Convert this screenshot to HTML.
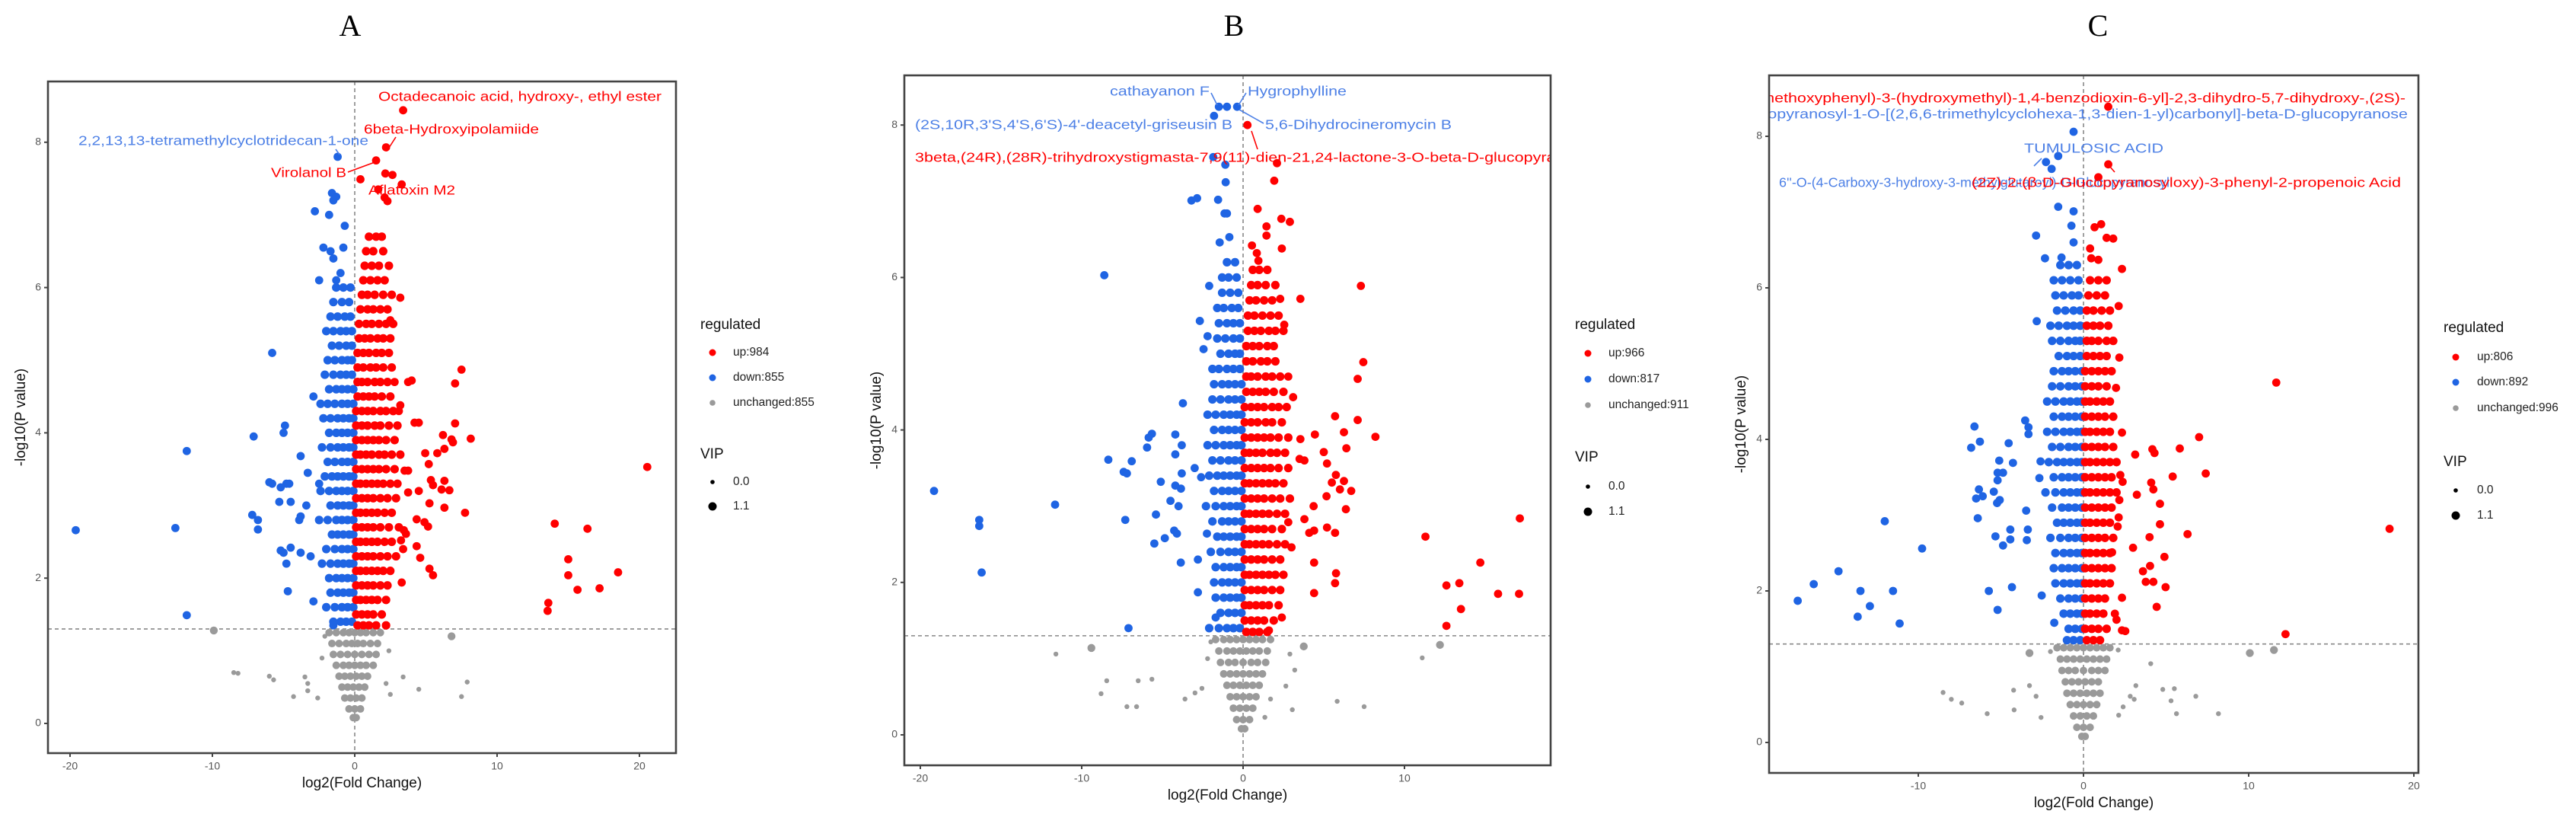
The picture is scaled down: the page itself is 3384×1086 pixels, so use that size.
<!DOCTYPE html>
<html><head><meta charset="utf-8">
<style>
html,body{margin:0;padding:0;background:#fff;}
svg{display:block;font-family:"Liberation Sans",sans-serif;}
</style></head>
<body>
<svg id="fig" width="3384" height="1086" viewBox="0 0 3384 1086" xmlns="http://www.w3.org/2000/svg">
<defs>
<clipPath id="clipA"><rect x="63" y="107" width="825" height="882"/></clipPath>
<clipPath id="clipB"><rect x="1188" y="99" width="849" height="906"/></clipPath>
<clipPath id="clipC"><rect x="2324" y="99" width="853" height="916"/></clipPath>
</defs>
</svg>
<script>
// ---------- Panel A data ----------
const xTicksA = [-20,-10,0,10,20];
const yTicks = [0,2,4,6,8];
const upA = [3.4,8.44, 2.2,7.93, 1.5,7.75, 0.4,7.49, 2.15,7.57, 2.65,7.55, 3.3,7.42, 1.65,7.35, 2.1,7.24, 2.3,7.19,
 3.2,5.86, 2.5,5.55, 2.8,4.7, 3.75,4.7, 4.0,4.72, 7.5,4.87, 7.05,4.68, 3.2,4.38, 3.1,4.3, 4.2,4.14, 4.5,4.14, 7.05,4.13,
 6.2,3.97, 6.8,3.91, 8.15,3.92, 6.9,3.87, 6.3,3.78, 4.95,3.72, 5.8,3.72, 5.2,3.57, 3.75,3.48, 3.5,3.48, 5.35,3.35, 6.3,3.34,
 5.5,3.28, 6.1,3.22, 6.65,3.21, 3.75,3.18, 4.5,3.2, 5.25,3.03, 6.3,2.97, 7.75,2.9, 4.35,2.81, 4.9,2.77, 5.15,2.71, 3.45,2.66,
 3.6,2.61, 3.25,2.52, 4.35,2.44, 3.4,2.4, 4.6,2.28, 5.25,2.13, 5.5,2.04, 3.3,1.94, 20.55,3.53, 14.05,2.75, 16.35,2.68,
 15.0,2.26, 15.0,2.04, 18.5,2.08, 15.65,1.84, 17.2,1.86, 13.6,1.66, 13.55,1.55];
const upCoreA = [
 [6.7,1.0,1.5,1.9],[6.5,0.8,1.3,2.0],[6.3,0.7,1.2,1.7,2.4],[6.1,0.6,1.1,1.6,2.1],[5.9,0.5,0.9,1.4,2.0,2.6],
 [5.7,0.4,0.9,1.3,1.8,2.3],[5.5,0.3,0.8,1.2,1.7,2.2,2.7],[5.3,0.3,0.7,1.1,1.6,2.0,2.5],[5.1,0.2,0.6,1.0,1.5,1.9,2.4],
 [4.9,0.2,0.6,1.1,1.5,2.0,2.6],[4.7,0.2,0.5,0.9,1.4,1.8,2.3],[4.5,0.2,0.6,1.0,1.4,1.9,2.5],[4.3,0.1,0.5,0.9,1.3,1.8,2.2,2.7],
 [4.1,0.1,0.5,0.9,1.4,1.8,2.4,3.0],[3.9,0.1,0.5,0.9,1.3,1.7,2.2,2.8],[3.7,0.1,0.4,0.8,1.2,1.7,2.1,2.6,3.2],
 [3.5,0.1,0.5,0.9,1.3,1.7,2.2,2.8],[3.3,0.1,0.4,0.8,1.2,1.6,2.0,2.5,3.0],[3.1,0.1,0.5,0.9,1.3,1.8,2.3,2.9],
 [2.9,0.1,0.4,0.8,1.2,1.6,2.1,2.6],[2.7,0.1,0.5,0.9,1.3,1.8,2.4,3.1],[2.5,0.1,0.4,0.8,1.2,1.6,2.1,2.6],
 [2.3,0.1,0.5,0.9,1.3,1.8,2.3,2.9],[2.1,0.1,0.4,0.8,1.2,1.6,2.0,2.5],[1.9,0.1,0.5,0.9,1.3,1.8,2.3],
 [1.7,0.1,0.4,0.8,1.2,1.6,2.2],[1.5,0.1,0.5,0.9,1.3,1.9],[1.35,0.2,0.6,1.0,1.5,2.2]];
const downA = [-1.2,7.8, -1.6,7.3, -1.3,7.25, -1.5,7.2, -2.8,7.05, -1.8,7.0, -0.7,6.85, -2.2,6.55, -0.8,6.55, -1.7,6.5,
 -1.5,6.4, -2.5,6.1, -1.0,6.2, -1.3,6.1, -5.8,5.1, -2.9,4.5, -4.9,4.1, -5.0,4.0, -7.1,3.95, -11.8,3.75, -3.8,3.68,
 -5.8,3.3, -6.0,3.32, -4.6,3.3, -4.8,3.3, -5.2,3.25, -3.3,3.45, -2.5,3.3, -5.3,3.05, -4.5,3.05, -3.4,3.0, -7.2,2.87,
 -6.8,2.8, -6.8,2.67, -3.8,2.85, -3.9,2.8, -19.6,2.66, -12.6,2.69, -5.2,2.38, -4.5,2.42, -3.8,2.35, -5.0,2.35, -4.8,2.2,
 -3.1,2.3, -4.7,1.82, -2.9,1.68, -11.8,1.49, -1.5,1.35];
const downCoreA = [
 [6.0,-0.3,-0.8,-1.3],[5.8,-0.4,-0.9,-1.5],[5.6,-0.3,-0.7,-1.2,-1.7],[5.4,-0.2,-0.6,-1.0,-1.5,-2.0],[5.2,-0.2,-0.6,-1.1,-1.6],
 [5.0,-0.2,-0.5,-0.9,-1.4,-1.9],[4.8,-0.2,-0.6,-1.0,-1.5,-2.1],[4.6,-0.1,-0.5,-0.9,-1.3,-1.8],[4.4,-0.1,-0.5,-0.9,-1.4,-1.9,-2.4],
 [4.2,-0.1,-0.4,-0.8,-1.2,-1.7,-2.2],[4.0,-0.1,-0.5,-0.9,-1.3,-1.8],[3.8,-0.1,-0.4,-0.8,-1.2,-1.7,-2.3],[3.6,-0.1,-0.5,-0.9,-1.4,-1.9],
 [3.4,-0.1,-0.4,-0.8,-1.2,-1.6,-2.1],[3.2,-0.1,-0.5,-0.9,-1.3,-1.8,-2.4],[3.0,-0.1,-0.4,-0.8,-1.2,-1.7],[2.8,-0.1,-0.5,-0.9,-1.3,-1.9,-2.5],
 [2.6,-0.1,-0.4,-0.8,-1.2,-1.6],[2.4,-0.1,-0.5,-0.9,-1.4,-2.0],[2.2,-0.1,-0.4,-0.8,-1.2,-1.7,-2.3],[2.0,-0.1,-0.5,-0.9,-1.3,-1.8],
 [1.8,-0.1,-0.4,-0.8,-1.2,-1.7],[1.6,-0.1,-0.5,-0.9,-1.4,-2.0],[1.4,-0.2,-0.6,-1.0,-1.5]];
const unchBigA = [-9.9,1.28, 6.8,1.2];
const unchA = [-8.5,0.7, -8.2,0.69, -6.0,0.65, -5.7,0.6, -3.5,0.64, -3.3,0.55, -4.3,0.37, -3.3,0.45, 3.4,0.64, 4.5,0.47,
 7.9,0.57, 7.5,0.37, 2.2,0.55, 2.5,0.4, -2.6,0.35, -2.3,0.9, 2.4,1.0, -2.1,1.2];
const unchCoreA = [[1.25,-1.8,-1.3,-0.8,-0.4,0,0.4,0.8,1.3,1.8],[1.1,-1.6,-1.1,-0.6,-0.2,0.2,0.6,1.1,1.6],[0.95,-1.5,-1.0,-0.5,0,0.5,1.0,1.5],
 [0.8,-1.3,-0.8,-0.4,0,0.4,0.8,1.3],[0.65,-1.1,-0.7,-0.3,0.1,0.5,0.9],[0.5,-0.9,-0.5,-0.1,0.3,0.7],[0.35,-0.7,-0.3,0.1,0.5],[0.2,-0.4,0,0.4],[0.08,-0.1,0.1]];

// ---------- Panel B data ----------
const xTicksB = [-20,-10,0,10];
const upB = [0.27,8.0, 2.1,7.5, 1.93,7.27, 0.9,6.9, 2.9,6.73, 1.45,6.67, 2.37,6.77, 1.45,6.55, 2.4,6.38, 0.55,6.42, 0.85,6.32,
 0.95,6.22, 7.3,5.89, 3.55,5.72, 2.3,5.72, 2.55,5.38, 7.45,4.89, 7.1,4.67, 2.8,4.7, 3.1,4.43, 5.7,4.18, 7.1,4.13, 6.25,3.97,
 8.2,3.91, 4.45,3.94, 3.55,3.88, 6.4,3.76, 5.0,3.71, 3.5,3.62, 3.8,3.6, 5.2,3.56, 5.75,3.41, 5.5,3.31, 6.25,3.33, 6.0,3.22,
 6.7,3.2, 5.17,3.13, 4.37,3.0, 6.37,2.96, 3.8,2.83, 2.8,2.79, 4.4,2.68, 4.1,2.65, 5.2,2.72, 5.7,2.65, 3.0,2.46, 4.4,2.26,
 5.76,2.12, 5.7,1.99, 4.4,1.86, 11.3,2.6, 17.15,2.84, 14.7,2.26, 12.6,1.96, 13.4,1.99, 15.8,1.85, 17.1,1.85, 13.5,1.65,
 12.6,1.43, 1.6,1.37, 2.4,1.54];
const upCoreB = [
 [6.1,0.6,1.0,1.5],[5.9,0.5,0.9,1.4,2.0],[5.7,0.4,0.8,1.3,1.8],[5.5,0.3,0.7,1.2,1.7,2.2],[5.3,0.3,0.7,1.1,1.6,2.0,2.5],
 [5.1,0.2,0.6,1.0,1.5,1.9],[4.9,0.2,0.6,1.1,1.5,2.0],[4.7,0.2,0.5,0.9,1.4,1.8,2.3],[4.5,0.2,0.6,1.0,1.4,1.9,2.5],
 [4.3,0.1,0.5,0.9,1.3,1.8,2.2,2.7],[4.1,0.1,0.5,0.9,1.4,1.8,2.4],[3.9,0.1,0.5,0.9,1.3,1.7,2.2,2.8],[3.7,0.1,0.4,0.8,1.2,1.7,2.1,2.6],
 [3.5,0.1,0.5,0.9,1.3,1.7,2.2,2.8],[3.3,0.1,0.4,0.8,1.2,1.6,2.0,2.5],[3.1,0.1,0.5,0.9,1.3,1.8,2.3,2.9],[2.9,0.1,0.4,0.8,1.2,1.6,2.1,2.6],
 [2.7,0.1,0.5,0.9,1.3,1.8,2.4],[2.5,0.1,0.4,0.8,1.2,1.6,2.1,2.6],[2.3,0.1,0.5,0.9,1.3,1.8,2.3],[2.1,0.1,0.4,0.8,1.2,1.6,2.0,2.5],
 [1.9,0.1,0.5,0.9,1.3,1.8,2.3],[1.7,0.1,0.4,0.8,1.2,1.6,2.2],[1.5,0.1,0.5,0.9,1.3,1.9],[1.35,0.2,0.6,1.0,1.5]];
const downB = [-1.5,8.24, -1.0,8.24, -0.37,8.24, -1.8,8.12, -1.85,7.58, -1.1,7.48, -1.08,7.25, -3.2,7.01, -2.85,7.04, -1.55,7.02,
 -1.15,6.84, -1.0,6.84, -1.45,6.46, -0.85,6.53, -8.6,6.03, -2.1,5.89, -2.68,5.43, -2.2,5.23, -2.45,5.06, -3.73,4.35, -5.65,3.95,
 -5.85,3.9, -4.2,3.94, -3.8,3.8, -5.95,3.77, -4.2,3.68, -8.35,3.61, -6.9,3.59, -7.4,3.45, -7.2,3.43, -3.0,3.5, -3.8,3.43, -2.6,3.38,
 -5.1,3.32, -4.2,3.27, -3.85,3.23, -19.15,3.2, -11.65,3.02, -4.5,3.07, -4.0,3.0, -5.4,2.89, -7.3,2.82, -16.35,2.82, -16.35,2.74,
 -4.27,2.68, -4.1,2.64, -4.85,2.58, -5.5,2.51, -2.24,2.64, -2.8,2.3, -3.86,2.26, -16.2,2.13, -2.8,1.87, -7.1,1.4, -1.7,1.54];
const downCoreB = [
 [6.2,-0.5,-1.0],[6.0,-0.4,-0.9,-1.3],[5.8,-0.3,-0.8,-1.3],[5.6,-0.3,-0.7,-1.2,-1.6],[5.4,-0.2,-0.6,-1.0,-1.5],
 [5.2,-0.2,-0.6,-1.1,-1.6],[5.0,-0.2,-0.5,-0.9,-1.4],[4.8,-0.2,-0.6,-1.0,-1.5,-1.9],[4.6,-0.1,-0.5,-0.9,-1.3,-1.8],
 [4.4,-0.1,-0.5,-0.9,-1.4,-1.9],[4.2,-0.1,-0.4,-0.8,-1.2,-1.7,-2.2],[4.0,-0.1,-0.5,-0.9,-1.3,-1.8],[3.8,-0.1,-0.4,-0.8,-1.2,-1.7,-2.2],
 [3.6,-0.1,-0.5,-0.9,-1.4,-1.9],[3.4,-0.1,-0.4,-0.8,-1.2,-1.6,-2.1],[3.2,-0.1,-0.5,-0.9,-1.3,-1.8],[3.0,-0.1,-0.4,-0.8,-1.2,-1.7,-2.3],
 [2.8,-0.1,-0.5,-0.9,-1.3,-1.9],[2.6,-0.1,-0.4,-0.8,-1.2,-1.6],[2.4,-0.1,-0.5,-0.9,-1.4,-2.0],[2.2,-0.1,-0.4,-0.8,-1.2,-1.7],
 [2.0,-0.1,-0.5,-0.9,-1.3,-1.8],[1.8,-0.1,-0.4,-0.8,-1.2,-1.7],[1.6,-0.1,-0.5,-0.9,-1.4],[1.4,-0.2,-0.6,-1.0,-1.5,-2.1]];
const unchBigB = [-9.4,1.14, 3.76,1.16, 12.2,1.18];
const unchB = [-11.6,1.06, -8.45,0.71, -6.5,0.71, -5.65,0.73, -8.8,0.54, -7.2,0.37, -6.6,0.37, -3.6,0.47, -2.98,0.55, -2.55,0.61,
 11.1,1.01, 2.9,1.06, 3.2,0.85, 2.65,0.64, 5.83,0.44, 7.5,0.37, 3.05,0.33, 1.7,0.47, 1.35,0.23, -2.2,1.0, -2.0,1.22];
const unchCoreB = [[1.25,-1.7,-1.2,-0.8,-0.4,0,0.4,0.8,1.2,1.7],[1.1,-1.5,-1.0,-0.6,-0.2,0.2,0.6,1.0,1.5],[0.95,-1.4,-0.9,-0.5,0,0.5,0.9,1.4],
 [0.8,-1.2,-0.8,-0.4,0,0.4,0.8,1.2],[0.65,-1.0,-0.6,-0.2,0.2,0.6,1.0],[0.5,-0.8,-0.4,0,0.4,0.8],[0.35,-0.6,-0.2,0.2,0.6],[0.2,-0.4,0,0.4],[0.08,-0.1,0.1]];

// ---------- Panel C data ----------
const xTicksC = [-10,0,10,20];
const upC = [1.5,8.39, 1.5,7.63, 0.9,7.46, 0.67,6.8, 1.07,6.84, 1.4,6.66, 1.8,6.65, 0.4,6.52, 2.33,6.25, 0.47,6.39, 0.9,6.37,
 2.13,5.76, 2.17,5.08, 1.97,4.68, 11.67,4.75, 2.33,4.09, 7.0,4.03, 5.83,3.88, 4.17,3.87, 4.3,3.82, 3.13,3.8, 7.4,3.55,
 5.4,3.51, 2.23,3.53, 2.37,3.44, 4.1,3.43, 4.23,3.34, 3.23,3.27, 2.17,3.2, 4.63,3.15, 2.13,2.97, 2.07,2.85, 4.63,2.88,
 18.53,2.82, 6.3,2.75, 4.0,2.71, 3.0,2.57, 1.73,2.51, 4.9,2.45, 4.03,2.33, 3.6,2.26, 3.77,2.12, 4.23,2.12, 4.97,2.05,
 2.33,1.91, 4.43,1.79, 1.9,1.7, 2.0,1.62, 2.33,1.48, 2.53,1.47, 12.23,1.43];
const upCoreC = [
 [6.1,0.4,0.9,1.4],[5.9,0.3,0.8,1.3],[5.7,0.2,0.6,1.1,1.6],[5.5,0.2,0.6,1.0,1.5],[5.3,0.2,0.5,0.9,1.4,1.8],
 [5.1,0.2,0.6,1.0,1.4],[4.9,0.1,0.5,0.9,1.3,1.7],[4.7,0.1,0.5,0.9,1.4],[4.5,0.1,0.4,0.8,1.2,1.6],[4.3,0.1,0.5,0.9,1.3,1.8],
 [4.1,0.1,0.4,0.8,1.2,1.6],[3.9,0.1,0.5,0.9,1.3,1.8],[3.7,0.1,0.4,0.8,1.2,1.6,2.0],[3.5,0.1,0.5,0.9,1.3,1.7],
 [3.3,0.1,0.4,0.8,1.2,1.6,2.0],[3.1,0.1,0.5,0.9,1.3,1.7],[2.9,0.1,0.4,0.8,1.2,1.6],[2.7,0.1,0.5,0.9,1.3,1.8],
 [2.5,0.1,0.4,0.8,1.2,1.6],[2.3,0.1,0.5,0.9,1.3,1.7],[2.1,0.1,0.4,0.8,1.2,1.6],[1.9,0.1,0.5,0.9,1.3],
 [1.7,0.1,0.4,0.8,1.2],[1.5,0.1,0.5,0.9,1.4],[1.35,0.2,0.6,1.0]];
const downC = [-0.6,8.06, -2.27,7.66, -1.93,7.57, -1.53,7.74, -1.53,7.07, -0.6,7.01, -0.73,6.82, -2.87,6.69, -0.6,6.6, -2.33,6.39,
 -1.33,6.4, -2.83,5.56, -6.6,4.17, -6.27,3.97, -6.8,3.89, -3.53,4.25, -3.33,4.16, -3.33,4.07, -4.53,3.95, -5.1,3.72, -4.27,3.69,
 -5.2,3.56, -4.87,3.56, -5.2,3.46, -2.6,3.71, -2.67,3.49, -6.33,3.34, -6.1,3.25, -6.5,3.22, -5.43,3.31, -5.23,3.16, -5.07,3.2,
 -3.47,3.06, -6.4,2.96, -12.03,2.92, -4.43,2.81, -3.37,2.81, -5.33,2.72, -4.43,2.68, -3.43,2.67, -4.87,2.6, -9.77,2.56,
 -14.83,2.26, -16.33,2.09, -13.5,2.0, -11.53,2.0, -5.73,2.0, -4.33,2.05, -17.3,1.87, -12.93,1.8, -13.67,1.66, -5.2,1.75,
 -11.13,1.57, -2.53,1.94, -1.77,1.58];
const downCoreC = [
 [6.3,-0.4,-0.9,-1.4],[6.1,-0.3,-0.8,-1.3,-1.8],[5.9,-0.3,-0.7,-1.2,-1.7],[5.7,-0.2,-0.6,-1.1,-1.6],[5.5,-0.2,-0.6,-1.0,-1.5,-2.0],
 [5.3,-0.2,-0.5,-0.9,-1.4,-1.9],[5.1,-0.2,-0.6,-1.0,-1.5],[4.9,-0.1,-0.5,-0.9,-1.3,-1.8],[4.7,-0.1,-0.5,-0.9,-1.4,-1.9],
 [4.5,-0.1,-0.4,-0.8,-1.2,-1.7,-2.2],[4.3,-0.1,-0.5,-0.9,-1.3,-1.8],[4.1,-0.1,-0.4,-0.8,-1.2,-1.7,-2.2],[3.9,-0.1,-0.5,-0.9,-1.4,-1.9],
 [3.7,-0.1,-0.4,-0.8,-1.2,-1.6,-2.1],[3.5,-0.1,-0.5,-0.9,-1.3,-1.8],[3.3,-0.1,-0.4,-0.8,-1.2,-1.7,-2.3],[3.1,-0.1,-0.5,-0.9,-1.3,-1.9],
 [2.9,-0.1,-0.4,-0.8,-1.2,-1.6],[2.7,-0.1,-0.5,-0.9,-1.4,-2.0],[2.5,-0.1,-0.4,-0.8,-1.2,-1.7],[2.3,-0.1,-0.5,-0.9,-1.3,-1.8],
 [2.1,-0.1,-0.4,-0.8,-1.2,-1.7],[1.9,-0.1,-0.5,-0.9,-1.4],[1.7,-0.1,-0.4,-0.8,-1.2],[1.5,-0.1,-0.5,-0.9],[1.35,-0.2,-0.6,-1.0]];
const unchBigC = [-3.27,1.18, 10.07,1.18, 11.53,1.22];
const unchC = [4.07,1.04, -8.5,0.66, -8.0,0.57, -7.37,0.52, -5.83,0.38, -4.23,0.69, -4.2,0.43, -3.27,0.75, -2.87,0.61, -2.57,0.33,
 3.17,0.75, 3.07,0.57, 4.8,0.7, 5.5,0.71, 5.3,0.55, 6.8,0.61, 5.63,0.38, 8.17,0.38, 2.13,0.36, 2.83,0.61, 2.4,0.47, 2.1,1.22, -2.0,1.2];
const unchCoreC = [[1.25,-1.6,-1.2,-0.8,-0.4,0,0.4,0.8,1.2,1.6],[1.1,-1.4,-1.0,-0.6,-0.2,0.2,0.6,1.0,1.4],[0.95,-1.3,-0.9,-0.5,0,0.5,0.9,1.3],
 [0.8,-1.1,-0.7,-0.3,0.1,0.5,0.9],[0.65,-1.0,-0.6,-0.2,0.2,0.6,1.0],[0.5,-0.8,-0.4,0,0.4,0.8],[0.35,-0.6,-0.2,0.2,0.6],[0.2,-0.4,0,0.4],[0.08,-0.1,0.1]];

const legendA = ["up:984","down:855","unchanged:855"];
const legendB = ["up:966","down:817","unchanged:911"];
const legendC = ["up:806","down:892","unchanged:996"];

const NS = "http://www.w3.org/2000/svg";
const svg = document.getElementById('fig');
const RED = "#ff0000", BLUE = "#1f64e3", GRAY = "#9a9a9a", LBLUE = "#4d80e6";
function mk(tag, attrs, parent, text){
  const e = document.createElementNS(NS, tag);
  for (const k in attrs) e.setAttribute(k, attrs[k]);
  if (text !== undefined) e.textContent = text;
  (parent || svg).appendChild(e);
  return e;
}

function panel(P){
  const g = mk('g', {});
  
  
  const X = v => P.x0 + P.xpu * v;
  const Y = v => P.y0 - P.ypu * v;
  // title
  const t = mk('text', {x:P.titleX, y:P.titleY, 'text-anchor':'middle', 'dominant-baseline':'middle', 'font-family':'"Liberation Serif",serif', 'font-size':40, fill:'#000'}, g, P.id);
  
  
  // frame bg
  const bg = mk('rect', {x:P.left, y:P.top, width:P.right-P.left, height:P.bottom-P.top, fill:'#fff'}, g);
  
  
  const pts = mk('g', {'clip-path':'url(#clip' + P.id + ')'}, g);
  
  
  // threshold lines
  const hl = mk('line', {x1:P.left, x2:P.right, y1:Y(1.3), y2:Y(1.3), stroke:'#888', 'stroke-width':1.6, 'stroke-dasharray':'5,4'}, pts);
  
  
  const vl = mk('line', {x1:X(0), x2:X(0), y1:P.top, y2:P.bottom, stroke:'#888', 'stroke-width':1.6, 'stroke-dasharray':'5,4'}, pts);
  
  
  function dotsFlat(arr, col, r, name){
    for (let i = 0; i < arr.length; i += 2){
      const c = mk('circle', {cx:X(arr[i]), cy:Y(arr[i+1]), r:r, fill:col}, pts);
      
      
    }
  }
  function dotsRows(rows, col, r, name){
    rows.forEach(row => {
      for (let j = 1; j < row.length; j++){
        const c = mk('circle', {cx:X(row[j]), cy:Y(row[0]), r:r, fill:col}, pts);
        
        
      }
    });
  }
  dotsRows(P.unchCore, GRAY, 5, 'unchanged-point');
  dotsFlat(P.unch, GRAY, 3.2, 'unchanged-point');
  dotsFlat(P.unchBig, GRAY, 5.2, 'unchanged-point');
  dotsRows(P.downCore, BLUE, 5.6, 'down-point');
  dotsFlat(P.down, BLUE, 5.4, 'down-point');
  dotsRows(P.upCore, RED, 5.6, 'up-point');
  dotsFlat(P.up, RED, 5.4, 'up-point');
  // labels
  P.labels.forEach(L => {
    if (L.line){
      const ln = mk('line', {x1:L.line[0], y1:L.line[1], x2:L.line[2], y2:L.line[3], stroke:L.c, 'stroke-width':1.6}, pts);
      
      
    }
    const a = {x:L.x, y:L.y, 'font-size':17.5, fill:L.c, 'dominant-baseline':'middle', textLength:L.w, lengthAdjust:'spacingAndGlyphs'};
    if (L.end) a['text-anchor'] = 'end';
    const tx = mk('text', a, pts, L.t);
    
    
  });
  // frame
  const fr = mk('rect', {x:P.left, y:P.top, width:P.right-P.left, height:P.bottom-P.top, fill:'none', stroke:'#444', 'stroke-width':2.6}, g);
  
  
  // ticks
  P.xTicks.forEach(v => {
    const tk = mk('line', {x1:X(v), x2:X(v), y1:P.bottom, y2:P.bottom+5, stroke:'#444', 'stroke-width':2}, g);
    
    
    const tl = mk('text', {x:X(v), y:P.bottom+18, 'text-anchor':'middle', 'dominant-baseline':'middle', 'font-size':14, fill:'#555'}, g, String(v));
    
    
  });
  yTicks.forEach(v => {
    const tk = mk('line', {x1:P.left-5, x2:P.left, y1:Y(v), y2:Y(v), stroke:'#444', 'stroke-width':2}, g);
    
    
    const tl = mk('text', {x:P.left-9, y:Y(v), 'text-anchor':'end', 'dominant-baseline':'middle', 'font-size':14, fill:'#555'}, g, String(v));
    
    
  });
  const xt = mk('text', {x:(P.left+P.right)/2, y:P.bottom+40, 'text-anchor':'middle', 'dominant-baseline':'middle', 'font-size':19, fill:'#111'}, g, 'log2(Fold Change)');
  
  
  const yc = (P.top+P.bottom)/2;
  const yt = mk('text', {x:P.ylabX, y:yc, 'text-anchor':'middle', 'dominant-baseline':'middle', 'font-size':19, fill:'#111', transform:'rotate(-90 ' + P.ylabX + ' ' + yc + ')'}, g, '-log10(P value)');
  
  
  // legend
  const lg = mk('g', {}, g);
  
  
  const L = P.leg;
  const rt = mk('text', {x:L.tx, y:L.ty, 'dominant-baseline':'middle', 'font-size':19, fill:'#111'}, lg, 'regulated');
  
  
  const cols = [RED, BLUE, GRAY], rs = [4.5, 4.5, 3.8];
  P.legendText.forEach((s, i) => {
    const d = mk('circle', {cx:L.dx, cy:L.iy[i], r:rs[i], fill:cols[i]}, lg);
    
    
    const tt = mk('text', {x:L.lx, y:L.iy[i], 'dominant-baseline':'middle', 'font-size':15.5, fill:'#222'}, lg, s);
    
    
  });
  const vt = mk('text', {x:L.tx, y:L.vy, 'dominant-baseline':'middle', 'font-size':19, fill:'#111'}, lg, 'VIP');
  
  
  [['0.0', 2.8], ['1.1', 5.5]].forEach((p, i) => {
    const d = mk('circle', {cx:L.dx, cy:L.sy[i], r:p[1], fill:'#000'}, lg);
    
    
    const tt = mk('text', {x:L.lx, y:L.sy[i], 'dominant-baseline':'middle', 'font-size':15.5, fill:'#222'}, lg, p[0]);
    
    
  });
}

panel({id:'A', left:63, right:888, top:107, bottom:989, x0:466, xpu:18.7, y0:950, ypu:95.4,
  titleX:460, titleY:38, ylabX:28, xTicks:xTicksA,
  up:upA, upCore:upCoreA, down:downA, downCore:downCoreA, unch:unchA, unchBig:unchBigA, unchCore:unchCoreA,
  legendText:legendA,
  leg:{tx:920, ty:427, dx:936, lx:963, iy:[463,496,529], vy:597, sy:[633,665]},
  labels:[
   {t:'Octadecanoic acid, hydroxy-, ethyl ester', x:497, y:128, w:372, c:RED, line:[530,142,528,147]},
   {t:'6beta-Hydroxyipolamiide', x:478, y:171, w:230, c:RED, line:[520,180,511,194]},
   {t:'2,2,13,13-tetramethylcyclotridecan-1-one', x:103, y:186, w:381, c:LBLUE, line:[441,196,446,203]},
   {t:'Virolanol B', x:356, y:228, w:99, c:RED, line:[457,226,495,212]},
   {t:'Aflatoxin M2', x:484, y:251, w:114, c:RED}
  ]});

panel({id:'B', left:1188, right:2037, top:99, bottom:1005, x0:1633, xpu:21.2, y0:965, ypu:100.1,
  titleX:1621, titleY:38, ylabX:1152, xTicks:xTicksB,
  up:upB, upCore:upCoreB, down:downB, downCore:downCoreB, unch:unchB, unchBig:unchBigB, unchCore:unchCoreB,
  legendText:legendB,
  leg:{tx:2069, ty:427, dx:2086, lx:2113, iy:[464,498,532], vy:601, sy:[639,672]},
  labels:[
   {t:'cathayanon F', x:1458, y:121, w:131, c:LBLUE, line:[1591,122,1599,138]},
   {t:'Hygrophylline', x:1639, y:121, w:130, c:LBLUE, line:[1637,122,1627,138]},
   {t:"(2S,10R,3'S,4'S,6'S)-4'-deacetyl-griseusin B", x:1202, y:165, w:417, c:LBLUE},
   {t:'5,6-Dihydrocineromycin B', x:1662, y:165, w:245, c:LBLUE, line:[1660,162,1628,144]},
   {t:'3beta,(24R),(28R)-trihydroxystigmasta-7,9(11)-dien-21,24-lactone-3-O-beta-D-glucopyranoside', x:1202, y:208, w:905, c:RED, line:[1644,172,1652,196]}
  ]});

panel({id:'C', left:2324, right:3177, top:99, bottom:1015, x0:2737, xpu:21.7, y0:975, ypu:99.5,
  titleX:2756, titleY:38, ylabX:2288, xTicks:xTicksC,
  up:upC, upCore:upCoreC, down:downC, downCore:downCoreC, unch:unchC, unchBig:unchBigC, unchCore:unchCoreC,
  legendText:legendC,
  leg:{tx:3210, ty:431, dx:3226, lx:3254, iy:[469,502,536], vy:607, sy:[644,677]},
  labels:[
   {t:'4H-1-Benzopyran-4-one, 2-[2-(4-hydroxy-3-methoxyphenyl)-3-(hydroxymethyl)-1,4-benzodioxin-6-yl]-2,3-dihydro-5,7-dihydroxy-,(2S)-', x:3160, y:130, w:1260, c:RED, end:true},
   {t:'6-O-beta-D-Glucopyranosyl-1-O-[(2,6,6-trimethylcyclohexa-1,3-dien-1-yl)carbonyl]-beta-D-glucopyranose', x:3163, y:151, w:1000, c:LBLUE, end:true},
   {t:'TUMULOSIC ACID', x:2659, y:196, w:183, c:LBLUE},
   {t:"6''-O-(4-Carboxy-3-hydroxy-3-methylglutaroyl)-D-Glucopyranosyl", x:2337, y:241, w:513, c:LBLUE, line:[2672,218,2682,208]},
   {t:'(2Z)-2-(β-D-Glucopyranosyloxy)-3-phenyl-2-propenoic Acid', x:2590, y:241, w:564, c:RED, line:[2771,218,2778,226]}
  ]});
</script>
</body></html>
